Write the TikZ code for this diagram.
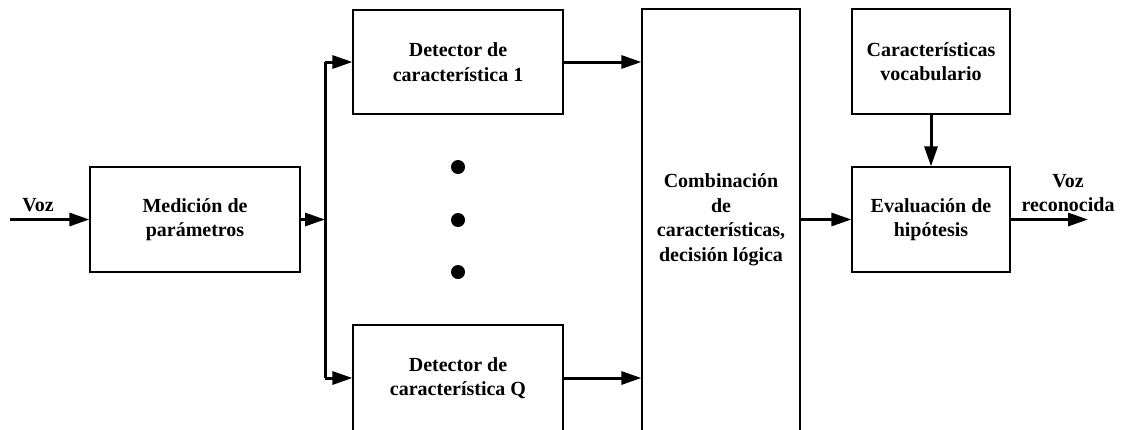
\documentclass[tikz,border=0pt]{standalone}
\usepackage{fontspec}
\setmainfont{Liberation Serif}
\usetikzlibrary{arrows.meta}
\begin{document}
\begin{tikzpicture}[x=1pt,y=-1pt,
  blk/.style={draw, line width=1.2pt, align=center, inner sep=0pt,
    font=\bfseries\fontsize{20}{24.5}\selectfont},
  lbl/.style={align=center, inner sep=0pt,
    font=\bfseries\fontsize{20}{24.5}\selectfont},
  arr/.style={line width=3pt, -{Triangle[length=20pt,width=13pt]}},
  bus/.style={line width=3pt},
  dot/.style={circle, fill=black, minimum size=14pt, inner sep=0pt}]
\useasboundingbox (0,0) rectangle (1126,429);
\clip (0,0) rectangle (1126,429);

% blocks
\node[blk, minimum width=210pt, minimum height=105pt] (med) at (195,219.5) {Medición de\\parámetros};
\node[blk, minimum width=210pt, minimum height=104pt] (d1) at (458,62) {Detector de\\característica 1};
\node[blk, minimum width=210pt, minimum height=106pt] (dq) at (458,378) {Detector de\\característica Q};
\node[blk, minimum width=158pt, minimum height=422pt] (comb) at (721,220) {Combinación\\de\\características,\\decisión lógica};
\node[blk, minimum width=158pt, minimum height=105pt] (voc) at (931,61.5) {Características\\vocabulario};
\node[blk, minimum width=158pt, minimum height=105pt] (eva) at (931,219.5) {Evaluación de\\hipótesis};

% ellipsis between the detectors
\node[dot] (p1) at (458,167) {};
\node[dot] (p2) at (458,220) {};
\node[dot] (p3) at (458,272) {};

% input and output
\coordinate (in) at (10,219.5);
\coordinate (out) at (1088,219.5);
\node[lbl] (vin) at (38,205) {Voz};
\node[lbl] (vout) at (1068,193) {Voz\\reconocida};

% distribution bus
\coordinate (bt) at (325,62);
\coordinate (bb) at (325,378);

\draw[arr] (in) -- (med.west);
\draw[arr] (med.east) -- (med.east -| bt);
\draw[bus] (bt) -- (bb);
\draw[arr] (bt) -- (d1.west);
\draw[arr] (bb) -- (dq.west);
\draw[arr] (d1.east) -- (d1.east -| comb.west);
\draw[arr] (dq.east) -- (dq.east -| comb.west);
\draw[arr] (comb.east |- eva.west) -- (eva.west);
\draw[arr] (voc.south) -- (eva.north);
\draw[arr] (eva.east) -- (out);
\end{tikzpicture}
\end{document}
